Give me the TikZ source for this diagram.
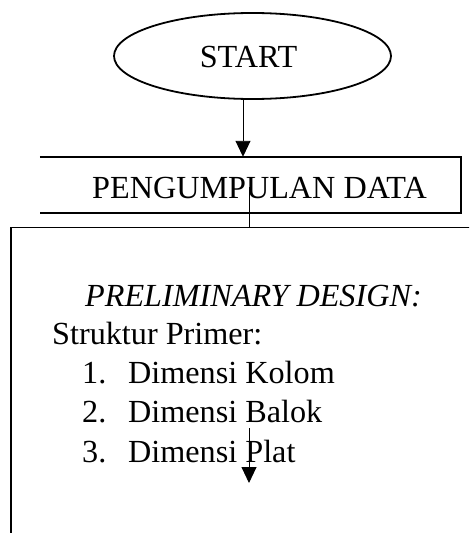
\documentclass[tikz,border=0pt]{standalone}
\usepackage{fontspec}
\setmainfont{Liberation Serif}
\usetikzlibrary{shapes.geometric,arrows.meta}
\begin{document}
\begin{tikzpicture}[x=1pt,y=-1pt,
  txt/.style={inner sep=0pt,anchor=base west,font=\fontsize{32.2}{38}\selectfont},
  thickline/.style={line width=1.8pt},
  boxline/.style={line width=1.6pt},
  flow/.style={line width=0.9pt,-{Triangle[width=15pt,length=16pt]}},
  thin/.style={line width=0.9pt}]
\useasboundingbox (0,0) rectangle (469,533);
\clip (0,0) rectangle (469,533);
% START
\node[draw,ellipse,thickline,minimum width=277pt,minimum height=86pt,inner sep=0pt] (start) at (252.5,56) {};
\node[txt,anchor=base] (starttxt) at (248.5,67) {START};
% PENGUMPULAN DATA box (no left side)
\node[minimum width=421pt,minimum height=55.5pt,inner sep=0pt] (pd) at (250.5,184.75) {};
\draw[boxline] (pd.north west) -- (pd.north east) -- (pd.south east) -- (pd.south west);
\node[txt] (pdtxt) at (92,198) {PENGUMPULAN DATA};
% big rectangle
\node[minimum width=480pt,minimum height=340pt,inner sep=0pt,anchor=north west] (pre) at (11,227.5) {};
\draw[thickline] (pre.south west) -- (pre.north west) -- (pre.north east);
% texts
\node[txt,font=\fontsize{32.2}{38}\selectfont\itshape] (t0) at (85,306) {PRELIMINARY DESIGN:};
\node[txt] (t1) at (52,344) {Struktur Primer:};
\node[txt] (n1) at (82,383) {1.};
\node[txt] (d1) at (128,383) {Dimensi Kolom};
\node[txt] (n2) at (82,422) {2.};
\node[txt] (d2) at (128,422) {Dimensi Balok};
\node[txt] (n3) at (82,462) {3.};
\node[txt] (d3) at (128,462) {Dimensi Plat};
% connectors
\coordinate (a1s) at (243,98.5);
\draw[flow] (a1s) -- (a1s |- pd.north);
\coordinate (l1s) at (249,187);
\draw[thin] (l1s) -- (l1s |- pre.north);
\coordinate (a2s) at (249,428);
\coordinate (a2e) at (249,483);
\draw[flow] (a2s) -- (a2e);
\end{tikzpicture}
\end{document}
